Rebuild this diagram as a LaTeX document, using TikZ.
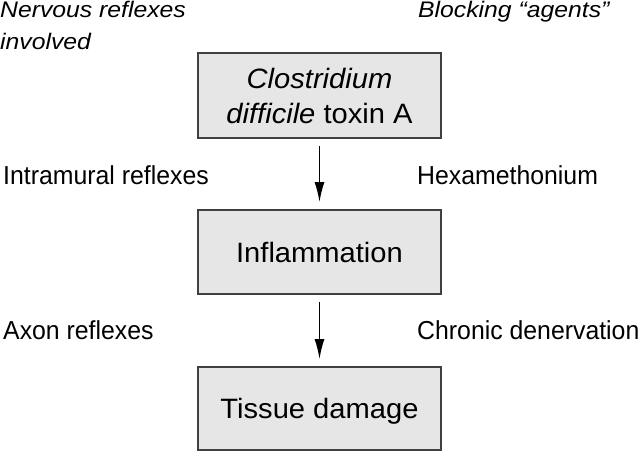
\documentclass[tikz,border=0pt]{standalone}
\usepackage{fontspec}
\setmainfont{Liberation Sans}
\newfontfamily\boxfont[FakeStretch=1.04]{Liberation Sans}
\newfontfamily\sidefont[FakeStretch=0.955]{Liberation Sans}
\newfontfamily\headfont[FakeStretch=1.1]{Liberation Sans}
\usetikzlibrary{arrows.meta}
\definecolor{boxfill}{HTML}{E5E6E5}
\definecolor{boxline}{HTML}{404040}
\begin{document}
\begin{tikzpicture}[x=1pt,y=-1pt,
  box/.style={draw=boxline, line width=2pt, fill=boxfill, minimum width=243pt,
    minimum height=85pt, inner sep=0pt, align=center,
    font=\boxfont\fontsize{28}{35}\selectfont},
  side/.style={font=\sidefont\fontsize{26}{31}\selectfont, anchor=base west, inner sep=0pt},
  head/.style={font=\headfont\itshape\fontsize{22.5}{32}\selectfont, anchor=base west, inner sep=0pt},
  flow/.style={line width=1.4pt, -{Latex[length=20pt,width=10pt]}, shorten <=7pt, shorten >=7pt}]
\useasboundingbox (0,0) rectangle (640,451);
\node[box] (b1) at (319.5,95.5) {\textit{Clostridium}\\\textit{difficile} toxin A};
\node[box, minimum height=84pt] (b2) at (319.5,252) {Inflammation};
\node[box, minimum height=83pt, text depth=0pt] (b3) at (319.5,408.5) {Tissue damage};
\node[head] (h1) at (0,17) {Nervous reflexes};
\node[head] (h1b) at (0,49) {involved};
\node[head] (h2) at (418,17) {Blocking “agents”};
\node[side] (l1) at (3,184) {Intramural reflexes};
\node[side] (r1) at (417,184) {Hexamethonium};
\node[side] (l2) at (3,339) {Axon reflexes};
\node[side] (r2) at (417,339) {Chronic denervation};
\draw[flow] (b1) -- (b2);
\draw[flow] (b2) -- (b3);
\end{tikzpicture}
\end{document}
